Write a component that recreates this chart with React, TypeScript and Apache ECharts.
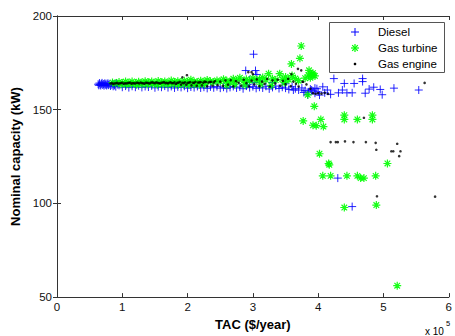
import React, { useEffect, useRef } from "react";
import * as echarts from "echarts";

// x values in units of 10^5 $/year, y in kW
const dieselPts: [number, number][] = [
  [0.63,163.6],[0.64,163.0],[0.65,164.2],[0.66,163.4],[0.67,162.9],[0.68,163.8],[0.69,164.3],[0.70,163.2],
  [0.71,163.7],[0.72,162.8],[0.73,164.0],[0.74,163.3],[0.75,163.9],[0.76,162.9],[0.77,163.5],[0.78,164.1],
  [0.79,163.1],[0.80,163.6],[0.82,162.7],[0.84,163.3],[0.85,164.0],[0.86,162.5],[0.87,163.6],[0.88,163.0],
  [0.89,163.8],[0.91,164.2],[0.93,163.4],
  [0.90,162.3],[0.95,163.0],[1.00,162.0],[1.05,162.6],[1.10,161.8],[1.15,162.5],[1.20,162.0],[1.25,162.8],
  [1.30,161.9],[1.35,162.4],[1.40,162.1],[1.45,162.7],[1.50,161.7],[1.55,162.3],[1.60,162.0],[1.65,162.6],
  [1.70,161.8],[1.75,162.4],[1.80,161.6],[1.85,162.2],[1.90,161.9],[1.95,162.5],[2.00,161.5],[2.05,162.1],
  [2.10,161.8],[2.15,162.4],[2.20,161.6],[2.25,162.0],[2.30,161.4],[2.35,162.2],[2.40,161.7],[2.45,162.3],
  [2.50,161.5],[2.55,162.0],[2.60,161.3],[2.65,161.9],[2.70,162.4],[2.75,161.6],[2.80,162.1],[2.85,161.2],
  [2.90,162.6],[2.92,163.5],[2.95,161.8],[3.00,162.3],[3.02,164.5],[3.05,161.4],[3.10,162.0],[3.15,161.6],
  [3.20,162.5],[3.25,161.1],[3.30,161.9],[3.35,162.6],[3.40,161.3],[3.45,162.0],[3.50,161.5],[3.55,160.8],
  [3.60,162.2],[3.65,161.2],[3.70,160.5],[3.75,161.6],[3.80,160.2],[3.85,159.5],[3.88,161.0],[3.92,160.0],
  [3.95,158.8],[3.98,161.2],
  [2.89,170.9],[3.01,179.6],[3.04,170.9],[3.06,168.8],[2.95,166.0],[3.10,165.5],[3.30,164.5],[3.50,163.8],
  [3.62,160.5],[3.78,159.2],[3.84,158.0],[3.90,160.5],[3.95,161.5],[4.00,159.5],[4.02,157.8],[4.07,162.2],
  [4.10,159.0],[4.14,160.5],[4.19,158.2],[4.24,166.6],[4.31,159.0],[4.37,160.5],[4.40,164.0],[4.44,159.0],
  [4.52,159.0],[4.55,164.0],[4.68,166.6],[4.68,165.0],[4.72,158.8],[4.78,161.0],[4.85,162.0],[4.95,160.8],
  [4.98,158.0],[5.16,161.5],[5.54,160.5],[4.30,113.5],[4.52,98.3]
];

const turbinePts: [number, number][] = [
  [0.85,164.5],[0.90,164.0],[0.95,164.8],[1.00,164.2],[1.05,165.0],[1.10,164.4],[1.15,165.1],[1.20,164.3],
  [1.25,164.9],[1.30,164.5],[1.35,165.2],[1.40,164.6],[1.45,165.0],[1.50,164.4],[1.55,165.3],[1.60,164.7],
  [1.65,165.1],[1.70,164.5],[1.75,165.6],[1.80,164.8],[1.85,165.2],[1.90,164.6],[1.95,165.4],[2.00,164.9],
  [2.05,166.0],[2.10,165.1],[2.15,164.7],[2.20,165.5],[2.25,164.9],[2.30,165.8],[2.35,165.2],[2.40,164.8],
  [2.45,165.6],[2.50,165.0],[2.55,166.2],[2.60,165.4],[2.65,165.0],[2.70,166.5],[2.75,165.6],[2.80,167.0],
  [2.85,165.3],[2.90,166.2],[2.95,165.5],[3.00,166.8],[3.05,165.7],[3.10,166.3],[3.15,167.2],[3.20,165.9],
  [3.24,169.2],[3.30,166.5],[3.35,165.8],[3.41,169.2],[3.45,166.2],[3.50,167.5],[3.55,166.0],[3.60,168.2],
  [3.65,166.6],[3.70,165.5],[3.80,166.8],[3.85,168.5],[3.88,167.0],[3.92,169.5],[3.95,168.0],
  [0.98,163.5],[1.06,163.4],[1.14,163.6],[1.22,163.3],[1.30,163.5],[1.38,163.4],[1.46,163.6],[1.54,163.3],
  [1.62,163.5],[1.70,163.4],[1.78,163.6],[1.86,163.3],[1.94,163.5],[2.02,163.2],[2.10,163.4],[2.18,163.3],
  [2.26,163.5],[2.60,163.0],[2.72,163.4],[2.88,163.2],[3.12,163.6],[3.28,163.0],[3.48,164.4],
  [3.74,184.0],[3.72,177.4],[3.59,174.4],[3.86,171.0],[3.90,169.0],[3.92,168.3],[3.84,157.9],[3.94,151.8],
  [3.77,144.0],[3.92,141.7],[3.97,141.5],[4.08,141.0],[4.04,144.8],[4.40,147.1],[4.40,144.8],[4.60,144.8],
  [4.83,147.1],[4.83,144.8],[4.02,126.5],[4.16,121.3],[4.17,120.6],[5.06,121.3],[4.07,114.7],[4.19,114.7],
  [4.44,114.7],[4.60,114.7],[4.65,113.5],[4.70,113.5],[4.88,114.7],[4.40,97.8],[4.89,99.1],[5.21,56.1]
];

const enginePts: [number, number][] = [
  [0.82,164.0],[0.86,163.8],[0.90,164.1],[0.94,163.9],[0.98,164.2],[1.02,163.8],[1.06,164.0],[1.10,164.3],
  [1.14,163.9],[1.18,164.1],[1.22,164.4],[1.26,164.0],[1.30,164.2],[1.34,163.9],[1.38,164.3],[1.42,164.0],
  [1.46,164.6],[1.50,164.1],[1.54,164.3],[1.58,164.0],[1.62,164.5],[1.66,164.2],[1.70,164.0],[1.74,164.6],
  [1.78,164.2],[1.82,163.6],[1.86,164.4],[1.90,163.4],[1.94,164.2],[1.98,163.3],[2.02,164.5],[2.06,163.0],
  [2.10,164.3],[2.14,162.8],[2.18,164.6],[2.22,163.0],[2.26,165.0],[2.30,162.6],[2.34,164.8],[2.38,162.9],
  [2.42,165.3],[2.46,163.1],[2.50,165.0],[2.54,162.7],[2.58,165.6],[2.62,163.4],[2.66,165.8],[2.70,162.5],
  [2.74,165.2],[2.78,164.4],[2.82,162.8],[2.86,166.0],[2.90,164.2],[2.94,162.5],[2.98,165.5],[3.02,163.5],
  [3.06,166.2],[3.10,162.6],[3.14,165.0],[3.18,163.8],[3.22,166.4],[3.26,162.4],[3.30,165.6],[3.34,164.0],
  [3.38,166.0],[3.42,162.8],[3.46,165.4],[3.50,163.6],[3.54,166.5],[3.58,162.6],[3.62,165.0],[3.66,163.8],
  [3.70,162.4],[3.76,164.9],[3.82,163.5],[3.88,161.2],[3.92,158.8],[3.96,158.5],[4.00,158.8],[4.05,158.6],
  [4.10,159.0],[4.15,158.4],
  [0.84,164.2],[0.88,164.0],[0.92,164.3],[0.96,164.1],[1.00,164.4],[1.04,164.1],[1.08,164.2],[1.12,164.5],
  [1.16,164.2],[1.20,164.0],[1.24,164.3],[1.28,164.5],[1.32,164.1],[1.36,164.4],[1.40,164.2],[1.44,164.5],
  [1.48,164.3],[1.52,164.6],[1.56,164.2],[1.60,164.4],[1.64,164.7],[1.68,164.3],[1.72,164.5],[1.76,164.2],
  [1.80,164.6],[1.84,164.3],[1.88,164.8],[1.92,164.4],[1.96,164.6],[2.00,164.3],[2.04,164.7],[2.08,164.4],
  [2.12,164.9],[2.16,164.5],[2.20,164.7],[2.24,164.4],[2.28,164.8],[2.32,164.5],[2.36,164.9],[2.40,164.6],
  [1.92,167.3],[1.99,168.4],[2.93,170.0],[2.98,170.0],[3.00,169.0],[3.59,169.0],[3.69,171.8],[3.74,171.0],
  [3.77,164.9],[5.63,164.3],[4.70,145.7],[4.19,132.7],[4.27,132.7],[4.30,132.7],[4.41,133.1],[4.54,132.7],
  [4.73,132.7],[4.88,132.3],[4.89,128.6],[5.21,131.8],[5.12,127.8],[5.15,127.8],[5.26,127.8],[5.24,125.2],
  [4.90,103.8],[5.79,103.6]
];

const legendNames = ["Diesel", "Gas turbine", "Gas engine"];
const seriesColors = ["#0000ff", "#00ff00", "#000000"];

const plusPath = "path://M0,4L8,4M4,0L4,8";
const starPath = "path://M0,4L8,4M4,0L4,8M1.2,1.2L6.8,6.8M6.8,1.2L1.2,6.8";

export default function App() {
  const ref = useRef<HTMLDivElement>(null);
  useEffect(() => {
    const chart = echarts.init(ref.current!, null, { renderer: "svg" });
    const font = "'Liberation Sans', Arial, sans-serif";
    const axisColor = "#333";
    chart.setOption({
      animation: false,
      backgroundColor: "#fff",
      grid: { left: 57, right: 3, top: 16, bottom: 33, containLabel: false },
      xAxis: [
        {
          type: "value", min: 0, max: 6, interval: 1,
          name: "TAC ($/year)", nameLocation: "middle", nameGap: 18,
          nameTextStyle: { fontFamily: font, fontWeight: "bold", fontSize: 13, color: "#000" },
          axisLine: { lineStyle: { color: axisColor, width: 1 } },
          axisTick: { inside: true, length: 4, lineStyle: { color: axisColor } },
          axisLabel: { fontFamily: font, fontSize: 11.5, color: "#111", margin: 4 },
          splitLine: { show: false },
        },
        {
          type: "value", min: 0, max: 6, interval: 1, position: "top",
          axisLine: { lineStyle: { color: axisColor, width: 1 } },
          axisTick: { inside: true, length: 4, lineStyle: { color: axisColor } },
          axisLabel: { show: false }, splitLine: { show: false },
        },
      ],
      yAxis: [
        {
          type: "value", min: 50, max: 200, interval: 50,
          name: "Nominal capacity (kW)", nameLocation: "middle", nameGap: 31,
          nameTextStyle: { fontFamily: font, fontWeight: "bold", fontSize: 13, color: "#000" },
          axisLine: { show: true, lineStyle: { color: axisColor, width: 1 } },
          axisTick: { show: true, inside: true, length: 4, lineStyle: { color: axisColor } },
          axisLabel: { fontFamily: font, fontSize: 11.5, color: "#111", margin: 5 },
          splitLine: { show: false },
        },
        {
          type: "value", min: 50, max: 200, interval: 50, position: "right",
          axisLine: { show: true, lineStyle: { color: axisColor, width: 1 } },
          axisTick: { show: true, inside: true, length: 4, lineStyle: { color: axisColor } },
          axisLabel: { show: false }, splitLine: { show: false },
        },
      ],
      series: [
        {
          name: legendNames[0], type: "scatter", data: dieselPts, symbol: plusPath, symbolSize: 8,
          itemStyle: { color: seriesColors[0], borderColor: seriesColors[0], borderWidth: 1, opacity: 0.85 },
        },
        {
          name: legendNames[1], type: "scatter", data: turbinePts, symbol: starPath, symbolSize: 8,
          itemStyle: { color: seriesColors[1], borderColor: seriesColors[1], borderWidth: 1.2, opacity: 0.9 },
        },
        {
          name: legendNames[2], type: "scatter", data: enginePts, symbol: "circle", symbolSize: 2.6,
          itemStyle: { color: seriesColors[2] },
        },
      ],
      graphic: [
        {
          type: "rect", left: 329, top: 22, shape: { width: 115, height: 50 },
          style: { fill: "#fff", stroke: "#555", lineWidth: 1 }, z: 10,
        },
        { type: "line", shape: { x1: 351, y1: 32, x2: 359, y2: 32 }, style: { stroke: seriesColors[0], lineWidth: 1 }, z: 11 },
        { type: "line", shape: { x1: 355, y1: 28, x2: 355, y2: 36 }, style: { stroke: seriesColors[0], lineWidth: 1 }, z: 11 },
        { type: "line", shape: { x1: 351, y1: 48, x2: 359, y2: 48 }, style: { stroke: seriesColors[1], lineWidth: 1.2 }, z: 11 },
        { type: "line", shape: { x1: 355, y1: 44, x2: 355, y2: 52 }, style: { stroke: seriesColors[1], lineWidth: 1.2 }, z: 11 },
        { type: "line", shape: { x1: 352.2, y1: 45.2, x2: 357.8, y2: 50.8 }, style: { stroke: seriesColors[1], lineWidth: 1.2 }, z: 11 },
        { type: "line", shape: { x1: 357.8, y1: 45.2, x2: 352.2, y2: 50.8 }, style: { stroke: seriesColors[1], lineWidth: 1.2 }, z: 11 },
        { type: "circle", shape: { cx: 355, cy: 64, r: 1.3 }, style: { fill: seriesColors[2] }, z: 11 },
        { type: "text", x: 378, y: 32, style: { text: legendNames[0], fontFamily: font, fontSize: 11.5, fill: "#000", verticalAlign: "middle" }, z: 11 },
        { type: "text", x: 378, y: 48, style: { text: legendNames[1], fontFamily: font, fontSize: 11.5, fill: "#000", verticalAlign: "middle" }, z: 11 },
        { type: "text", x: 378, y: 64, style: { text: legendNames[2], fontFamily: font, fontSize: 11.5, fill: "#000", verticalAlign: "middle" }, z: 11 },
        { type: "text", x: 425, y: 331, style: { text: "x 10", fontFamily: font, fontSize: 10, fill: "#000", verticalAlign: "middle" } },
        { type: "text", x: 446, y: 323, style: { text: "5", fontFamily: font, fontSize: 7.5, fill: "#000", verticalAlign: "middle" } },
      ],
    });
    return () => chart.dispose();
  }, []);
  return <div ref={ref} style={{ position: "fixed", left: 0, top: 0, width: 455, height: 336 }} />;
}
